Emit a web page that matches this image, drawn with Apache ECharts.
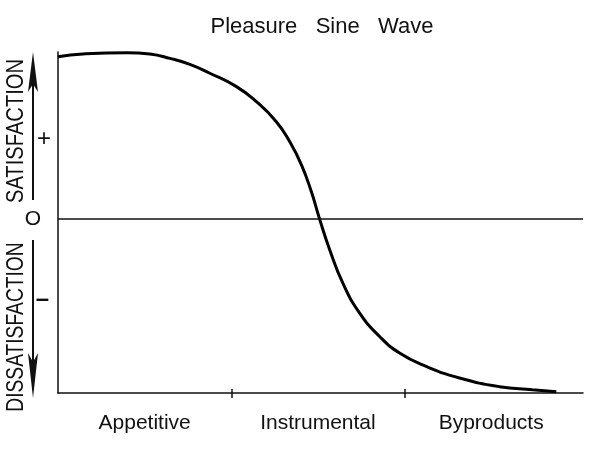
<!DOCTYPE html>
<html><head><meta charset="utf-8">
<script src="https://cdn.jsdelivr.net/npm/echarts@6/dist/echarts.min.js"></script>
<style>html,body{margin:0;padding:0;background:#fff}#c{width:600px;height:449px}</style>
</head><body><div id="c"></div>
<script>
var titleText = 'Pleasure   Sine   Wave';
var categories = ['Appetitive', 'Instrumental', 'Byproducts'];
var xTickValues = [1, 2];
var curveX = [0, 0.144, 0.398, 0.530, 0.646, 0.761, 0.876, 1.030, 1.145, 1.260, 1.337, 1.405, 1.462, 1.510, 1.568, 1.644, 1.741, 1.856, 1.971, 2.125, 2.317, 2.548, 2.738, 2.876];
var curveY = [0.972, 0.988, 0.996, 0.988, 0.962, 0.926, 0.873, 0.793, 0.703, 0.583, 0.464, 0.325, 0.165, 0.0, -0.183, -0.383, -0.562, -0.702, -0.801, -0.881, -0.950, -1.002, -1.020, -1.032];
var yTickValues = [0.48, 0, -0.48];
var yTickLabels = ['+', 'O', '\u2013'];
var upperName = 'SATISFACTION';
var lowerName = 'DISSATISFACTION';

var FONT = 'Liberation Sans';
var curveData = curveX.map(function (x, i) { return [x, curveY[i]]; });
var catPos = {};
categories.forEach(function (c, i) { catPos[(i + 0.5).toFixed(1)] = c; });
function labelFor(v) {
  for (var i = 0; i < yTickValues.length; i++) {
    if (Math.abs(v - yTickValues[i]) < 1e-6) return yTickLabels[i];
  }
  return undefined;
}

var chart = echarts.init(document.getElementById('c'));
chart.setOption({
  animation: false,
  backgroundColor: '#fff',
  title: {
    text: titleText, left: 317, top: 11, textAlign: 'center',
    textStyle: { fontFamily: FONT, fontSize: 22, fontWeight: 'normal', color: '#111' }
  },
  grid: { left: 58, right: 17, top: 52, bottom: 56 },
  xAxis: [
    { type: 'value', min: 0, max: 3.03, interval: 1,
      axisLine: { onZero: false, lineStyle: { color: '#111', width: 1.5 } },
      axisTick: { show: true, length: 5, customValues: xTickValues, lineStyle: { color: '#111', width: 1.5 } },
      axisLabel: { show: false }, splitLine: { show: false } },
    { type: 'value', min: 0, max: 3.03, interval: 0.5, position: 'bottom',
      axisLine: { show: false, onZero: false }, axisTick: { show: false }, splitLine: { show: false },
      axisLabel: { show: true, margin: 20, fontFamily: FONT, fontSize: 21, color: '#111',
        showMinLabel: false, showMaxLabel: false,
        formatter: function (v) { return catPos[v.toFixed(1)] || ''; } } },
    { type: 'value', min: 0, max: 3.03, interval: 1, position: 'bottom',
      axisLine: { show: false, onZero: false }, splitLine: { show: false }, axisLabel: { show: false },
      axisTick: { show: true, inside: true, length: 4, customValues: xTickValues, lineStyle: { color: '#111', width: 1.5 } } }
  ],
  yAxis: {
    type: 'value', min: -1.04, max: 1, interval: 0.08,
    axisLine: { show: true, onZero: false, lineStyle: { color: '#111', width: 1.5 } },
    axisTick: { show: false }, splitLine: { show: false },
    axisLabel: {
      show: true, margin: 5, color: '#111', fontFamily: FONT, interval: 0,
      showMinLabel: true, showMaxLabel: true,
      formatter: function (v) {
        var s = labelFor(v);
        if (s === undefined) return '';
        if (s === 'O') return '{o|' + s + '}';
        if (s === '+') return '{p|' + s + '}';
        return '{m|' + s + '}';
      },
      rich: {
        p: { fontSize: 24, fontFamily: FONT, color: '#111', padding: [0, 2, 0, 0] },
        o: { fontSize: 21, fontFamily: FONT, color: '#111', padding: [0, 12, 0, 0] },
        m: { fontSize: 24, fontFamily: FONT, fontWeight: 'bold', color: '#111', padding: [0, 4, 0, 0] }
      }
    }
  },
  graphic: [
    { type: 'text', x: 16, y: 131, rotation: Math.PI / 2, scaleX: 0.84,
      style: { text: upperName, fontFamily: FONT, fontSize: 24, fill: '#111', align: 'center', verticalAlign: 'middle' } },
    { type: 'text', x: 16, y: 327, rotation: Math.PI / 2, scaleX: 0.80,
      style: { text: lowerName, fontFamily: FONT, fontSize: 24, fill: '#111', align: 'center', verticalAlign: 'middle' } },
    { type: 'line', shape: { x1: 33, y1: 200, x2: 33, y2: 80 }, style: { stroke: '#111', lineWidth: 2 } },
    { type: 'polygon', shape: { points: [[33, 52], [38, 92], [33, 84], [28, 92]] }, style: { fill: '#111' } },
    { type: 'line', shape: { x1: 33, y1: 240, x2: 33, y2: 370 }, style: { stroke: '#111', lineWidth: 2 } },
    { type: 'polygon', shape: { points: [[33, 398], [38, 353], [33, 362], [28, 353]] }, style: { fill: '#111' } }
  ],
  series: [{
    type: 'line', data: curveData, smooth: 0.5, showSymbol: false, symbol: 'none',
    lineStyle: { color: '#000', width: 3 },
    markLine: {
      silent: true, symbol: 'none', label: { show: false },
      lineStyle: { color: '#111', width: 1.5, type: 'solid' },
      data: [{ yAxis: 0 }]
    }
  }]
});
</script></body></html>
